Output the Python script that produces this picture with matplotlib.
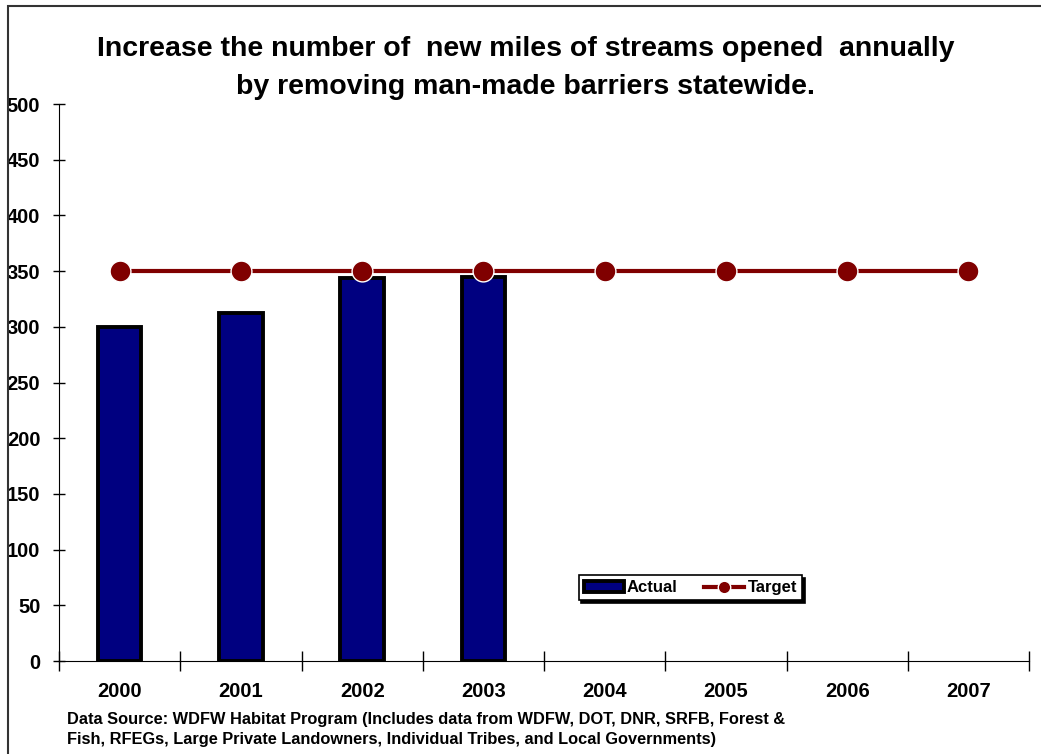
import matplotlib.pyplot as plt
from matplotlib.patches import Rectangle
import numpy as np

# --- data ---
years = ["2000", "2001", "2002", "2003", "2004", "2005", "2006", "2007"]
actual = [300, 312, 344, 345]
target = [350, 350, 350, 350, 350, 350, 350, 350]

title = ("Increase the number of  new miles of streams opened  annually\n"
         "by removing man-made barriers statewide.")
source = ("Data Source: WDFW Habitat Program (Includes data from WDFW, DOT, DNR, SRFB, Forest &\n"
          "Fish, RFEGs, Large Private Landowners, Individual Tribes, and Local Governments)")

plt.rcParams['font.family'] = ['Liberation Sans', 'DejaVu Sans']
plt.rcParams['font.weight'] = 'bold'

fig = plt.figure(figsize=(10.41, 7.54), dpi=100)
ax = fig.add_axes([0.0567, 0.1233, 0.9318, 0.7387])

x = np.arange(len(years))
bars = ax.bar(x[:len(actual)], actual, width=0.36, color='#000080',
              edgecolor='black', linewidth=2.8, label='Actual', zorder=2)
line, = ax.plot(x, target, color='#800000', linewidth=3, marker='o', markersize=15,
                markeredgecolor='white', markeredgewidth=1, label='Target', zorder=3)

ax.set_xlim(-0.5, len(years) - 0.5)
ax.set_ylim(0, 500)
ax.set_yticks(np.arange(0, 501, 50))
ax.set_xticks(x)
ax.set_xticklabels(years, fontsize=14.5, fontweight='bold')
ax.set_xticks(np.arange(-0.5, len(years), 1), minor=True)
ax.tick_params(axis='x', which='major', length=0, pad=15)
ax.tick_params(axis='x', which='minor', length=14, direction='inout', width=1)
ax.tick_params(axis='y', length=8, direction='inout', width=1, labelsize=14.5, pad=9.5)
for lab in ax.get_yticklabels():
    lab.set_fontweight('bold')
for s in ['top', 'right']:
    ax.spines[s].set_visible(False)

leg = ax.legend([bars, line], ['Actual', 'Target'],
                loc='lower left', bbox_to_anchor=(0.527, 0.094), ncol=2,
                frameon=True, fancybox=False, edgecolor='black', framealpha=1,
                shadow={'color': 'black', 'alpha': 1}, prop={'weight': 'bold', 'size': 12},
                handlelength=2.4, handletextpad=0.2, columnspacing=1.6,
                borderpad=0.3)
leg.get_frame().set_linewidth(1.2)
leg.legend_handles[1].set_markersize(9)

fig.text(0.505, 0.910, title, ha='center', va='center', fontsize=20.5,
         fontweight='bold', linespacing=1.58)
fig.text(0.064, 0.032, source, ha='left', va='center', fontsize=11.8,
         fontweight='bold', linespacing=1.4)

# outer frame
fig.patches.append(Rectangle((0.008, -0.1), 1.2, 1.092, transform=fig.transFigure,
                             fill=False, edgecolor='#333333', linewidth=1.5))

fig.savefig("out.png", dpi=100)
